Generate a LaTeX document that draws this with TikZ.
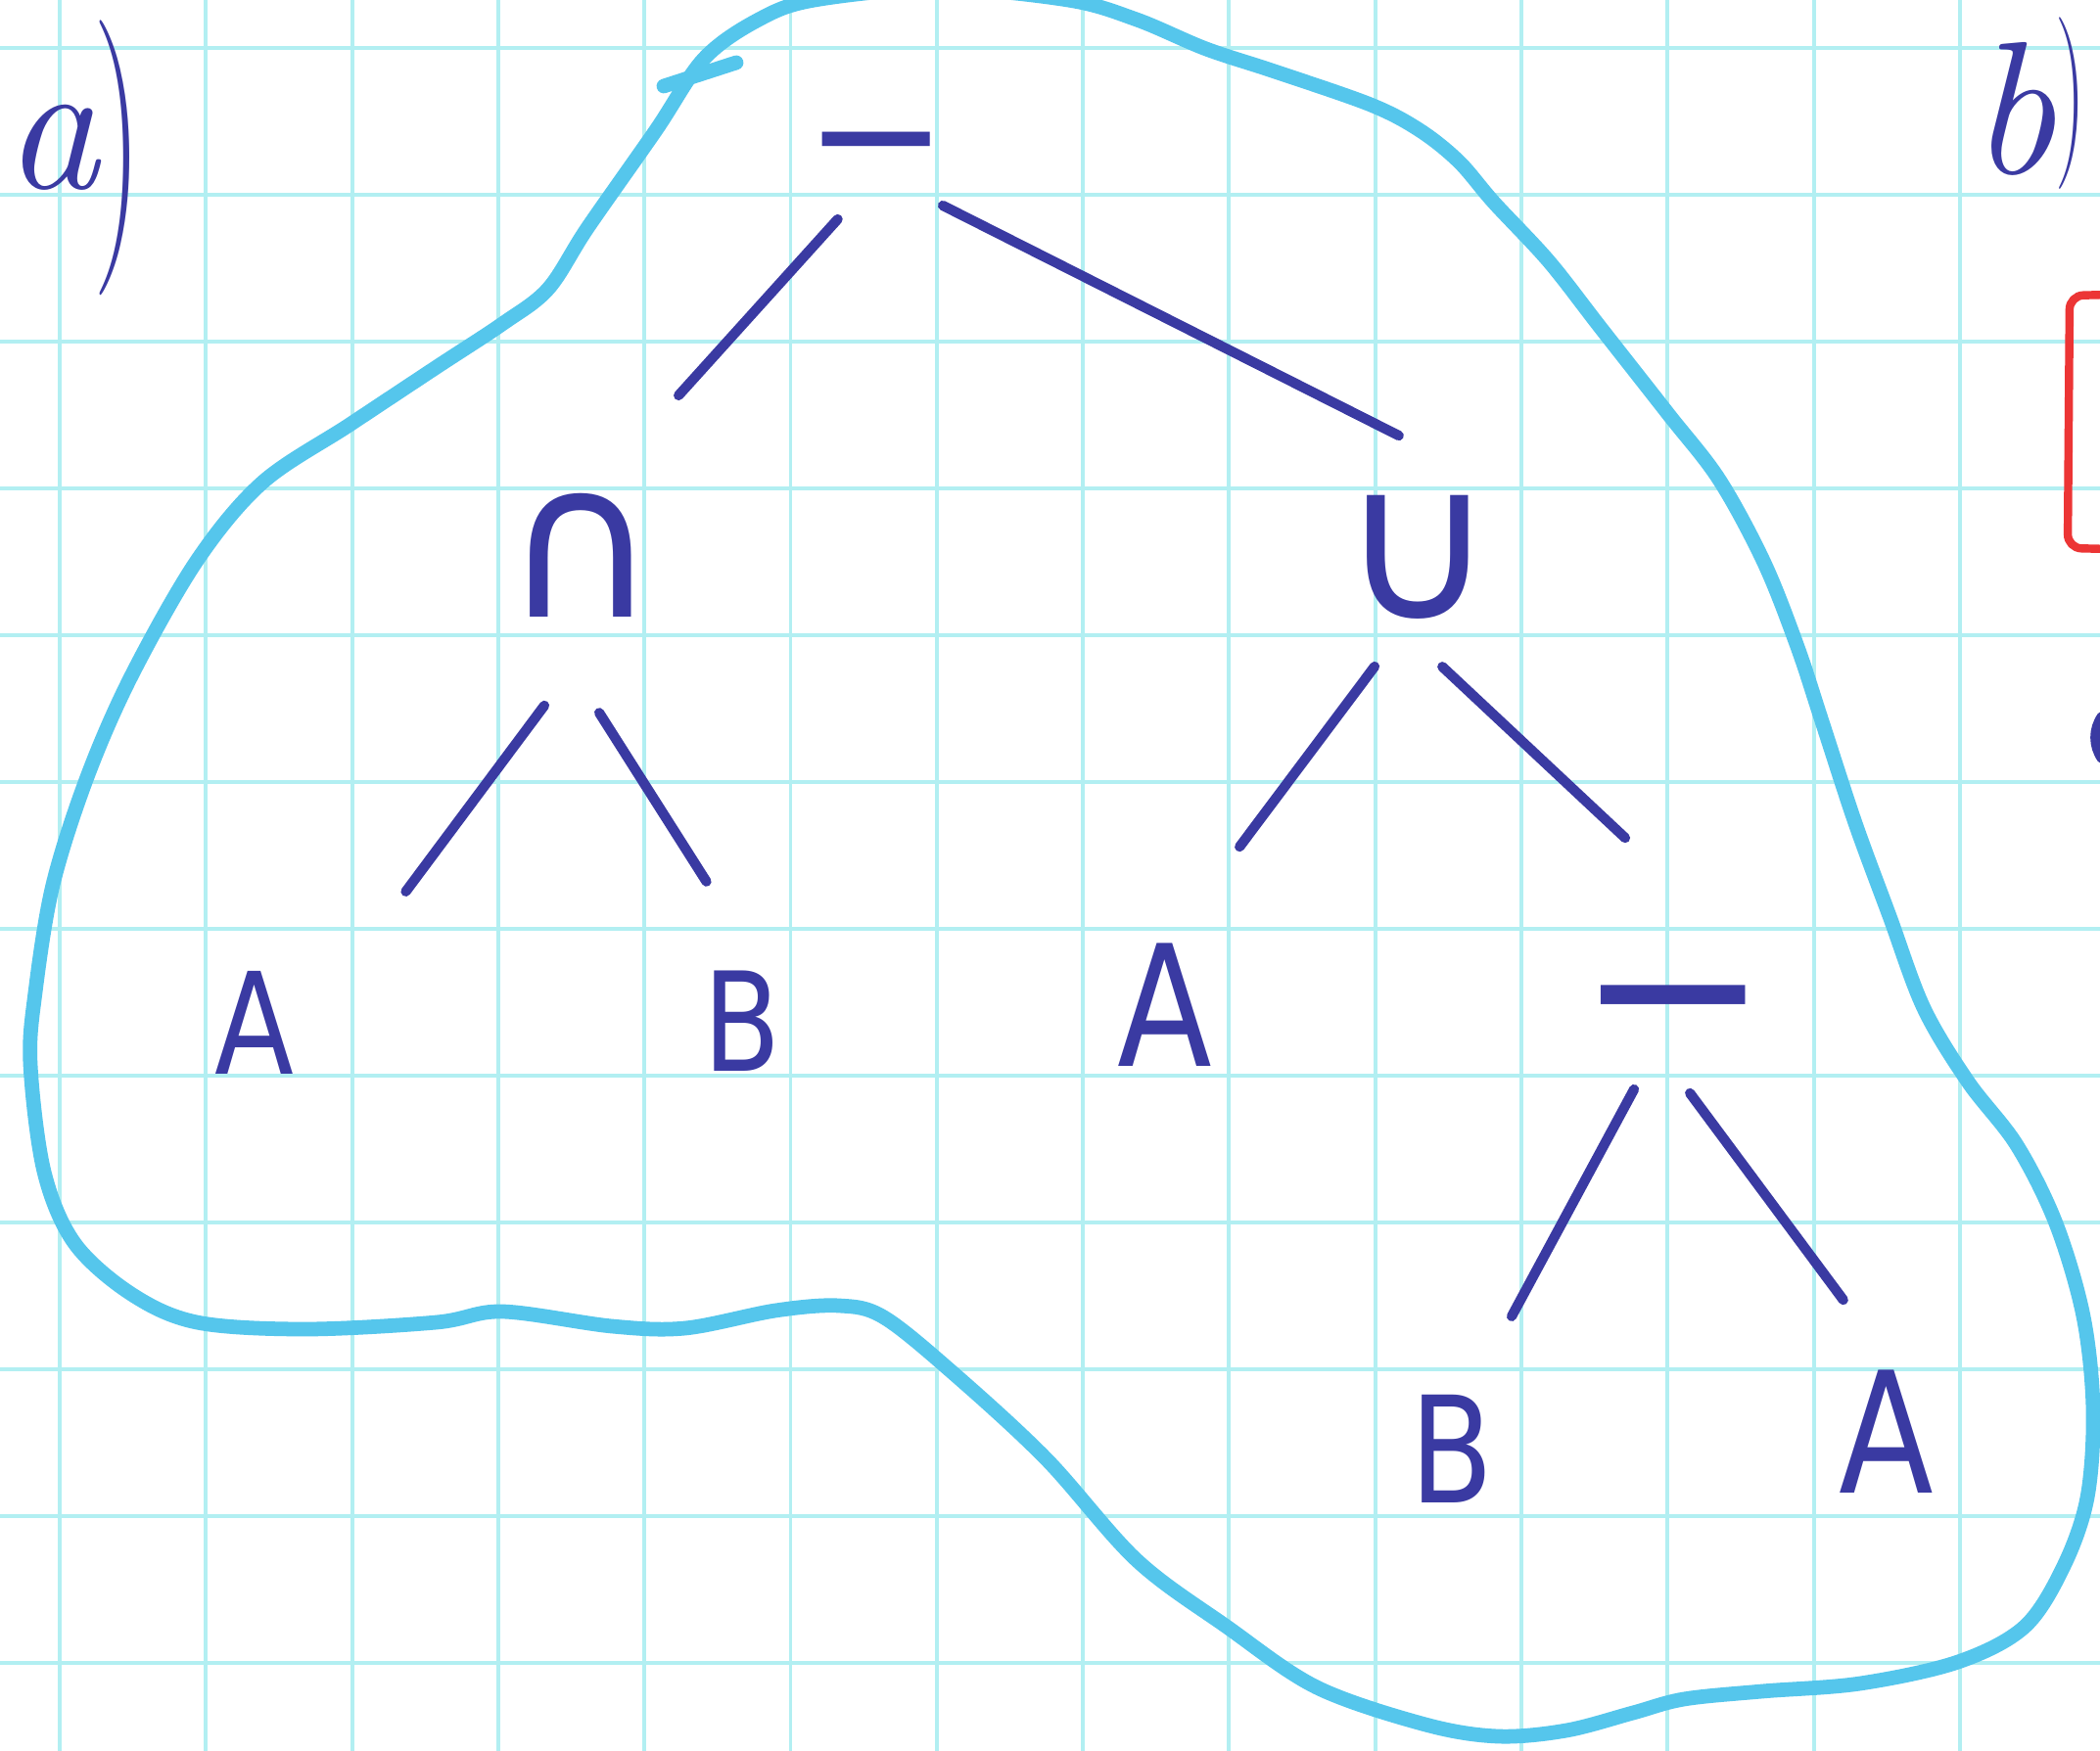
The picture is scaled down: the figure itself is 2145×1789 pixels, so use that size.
\documentclass[tikz,border=0pt]{standalone}
\usepackage{fontspec}
\newfontfamily\opfont{DejaVu Sans}
\newfontfamily\leaffont[FakeStretch=0.82]{DejaVu Sans}
\definecolor{ink}{HTML}{3A3AA2}
\definecolor{loopcyan}{HTML}{55C6EC}
\definecolor{gridcyan}{HTML}{B2EFF2}
\definecolor{redink}{HTML}{EC3535}
\newcommand\inkglyph[1]{\makebox[0pt]{\raisebox{-0.5\height}[0pt][0pt]{#1}}}
\newcommand\inkminus{\makebox[0pt]{\raisebox{-0.318em}[0pt][0pt]{−}}}
\newcommand\partlabel[4]{{\fontsize{55}{60}\selectfont\itshape #1}\kern#2\raisebox{#3}{\scalebox{0.5}[1]{\fontsize{#4}{#4}\selectfont )}}}

\begin{document}
\begin{tikzpicture}[x=0.01cm, y=-0.01cm,
    gridline/.style={gridcyan, line width=1.1pt},
    branch/.style={ink, line width=2.9pt, line cap=round},
    blob/.style={loopcyan, line width=4.2pt, line cap=round, line join=round},
    op/.style={text=ink, inner sep=0pt, outer sep=0pt},
    leaf/.style={text=ink, inner sep=0pt, outer sep=0pt, minimum width=0.8cm, minimum height=1.1cm, font=\fontsize{41}{44}\leaffont}
]
    \useasboundingbox (0,0) rectangle (2145,1789);
    \clip (0,0) rectangle (2145,1789);
    \fill[white] (0,0) rectangle (2145,1789);

    \foreach \gx in {0,...,13}
        \draw[gridline] ({61+149.3*\gx},0) -- ++(0,1789);
    \foreach \gy in {0,...,11}
        \draw[gridline] (0,{49+150*\gy}) -- ++(2145,0);

    \draw[blob] plot[smooth cycle, tension=0.55] coordinates {
        (600,233) (670,133) (719,60) (775,20) (832,0) (960,-12) (1091,0) (1161,20)
        (1232,50) (1302,73) (1400,107) (1450,133) (1490,165) (1526,207) (1582,267)
        (1635,335) (1704,423) (1756,490) (1802,575) (1836,661) (1861,737) (1895,841)
        (1930,936) (1965,1030) (2010,1105) (2060,1170) (2100,1250) (2128,1345)
        (2138,1440) (2132,1530) (2108,1600) (2068,1662) (2000,1698) (1900,1720)
        (1800,1728) (1720,1736) (1668,1750) (1600,1768) (1530,1774) (1456,1762)
        (1345,1724) (1253,1662) (1161,1594) (1069,1491) (976,1405) (903,1346)
        (857,1334) (792,1339) (700,1357) (625,1355) (513,1340) (446,1351) (312,1358)
        (201,1351) (134,1322) (76,1270) (45,1197) (31,1087) (36,1014) (54,904)
        (89,794) (134,691) (201,573) (268,493) (357,434) (446,375) (513,331) (560,295)};
    \draw[blob] (678,88) -- (752,64);

    \node (parta) [anchor=base west, text=ink] at (-8,193) {\partlabel{a}{-0.06cm}{-0.38cm}{80}};
    \node (partb) [anchor=base west, text=ink] at (2000,178) {\partlabel{b}{0cm}{0.28cm}{50}};
    \draw[redink, line width=2.4pt, rounded corners=4pt] (2200,300) -- (2114,302) -- (2112,560) -- (2200,562);
    \draw[branch] (2147,732) .. controls (2138,745) and (2138,762) .. (2147,775);

    \node (root) [op, minimum width=1.6cm, minimum height=1.2cm, font=\fontsize{50}{54}\opfont] at (895,142) {\inkminus};
    \node (cap) [op, minimum width=1.2cm, minimum height=1.4cm, font=\fontsize{62}{66}\opfont] at (593,567) {\inkglyph{∩}};
    \node (cup) [op, minimum width=1.1cm, minimum height=1.8cm, font=\fontsize{62}{66}\opfont] at (1448,569) {\inkglyph{∪}};
    \node (diff) [op, minimum width=1.6cm, minimum height=0.8cm, font=\fontsize{67}{70}\opfont] at (1709,1016) {\inkminus};
    \node (a1) [leaf] at (260,1045) {\inkglyph{A}};
    \node (b1) [leaf, font=\fontsize{40}{44}\leaffont] at (758,1043) {\inkglyph{B}};
    \node (a2) [leaf, font=\fontsize{49}{52}\leaffont] at (1190,1027) {\inkglyph{A}};
    \node (b2) [leaf, font=\fontsize{43}{46}\leaffont] at (1483,1480) {\inkglyph{B}};
    \node (a3) [leaf, minimum width=0.9cm, minimum height=1.24cm, font=\fontsize{49}{52}\leaffont] at (1927,1463) {\inkglyph{A}};

    \draw[branch, shorten <=0.296cm, shorten >=1.252cm] (root.-108.6) -- (cap.77.7);
    \draw[branch, shorten <=0.177cm, shorten >=0.751cm] (root.-49.5) -- (cup.62.4);
    \draw[branch, shorten <=1.045cm, shorten >=1.915cm] (cap.-70.9) -- (a1.-26.4);
    \draw[branch, shorten <=1.08cm, shorten >=1.033cm] (cap.-119.2) -- (b1.71.3);
    \draw[branch, shorten <=0.274cm, shorten >=1.334cm] (cup.-107.6) -- (a2.94.9);
    \draw[branch, shorten <=0.324cm, shorten >=1.767cm] (cup.-89.9) -- (diff.26.9);
    \draw[branch, shorten <=0.647cm, shorten >=0.909cm] (diff.-103.1) -- (b2.72.9);
    \draw[branch, shorten <=0.758cm, shorten >=0.907cm] (diff.-125) -- (a3.81);
\end{tikzpicture}
\end{document}
